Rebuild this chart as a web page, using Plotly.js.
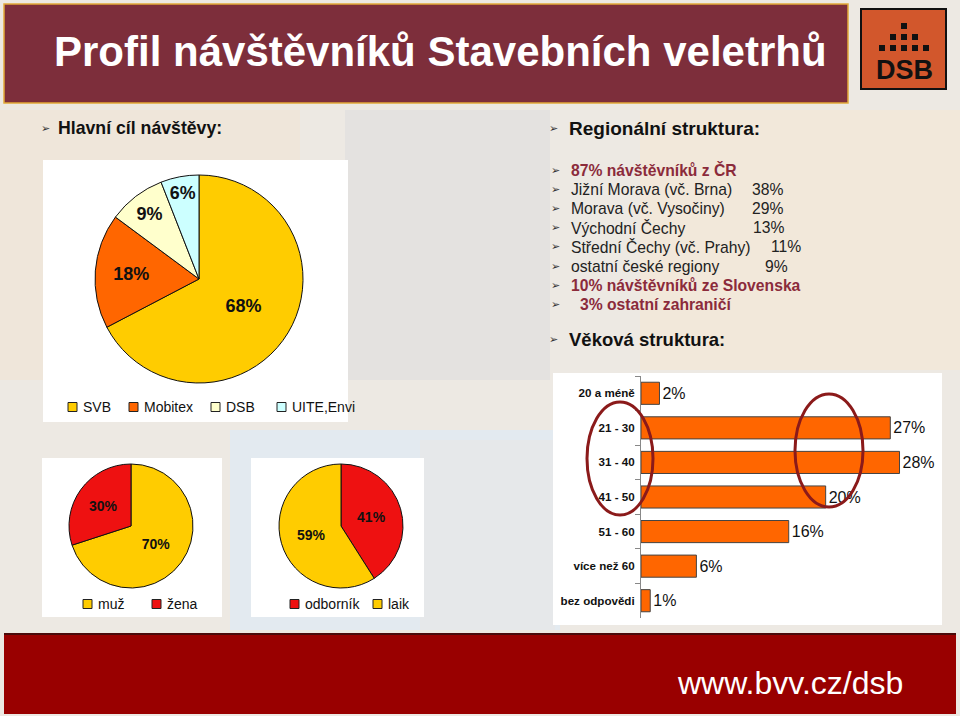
<!DOCTYPE html>
<html><head><meta charset="utf-8">
<script src="https://cdn.plot.ly/plotly-3.0.1.min.js"></script>
<style>html,body{margin:0;padding:0;background:#fff}#chart{width:960px;height:716px}</style>
</head><body><div id="chart"></div>
<script>
// ---- data ----
const goalLabels = ['SVB', 'Mobitex', 'DSB', 'UITE,Envi'];
const goalValues = [68, 18, 9, 6];
const genderLabels = ['muž', 'žena'];
const genderValues = [70, 30];
const expertLabels = ['odborník', 'laik'];
const expertValues = [41, 59];
const ageLabels = ['20 a méně', '21 - 30', '31 - 40', '41 - 50', '51 - 60', 'více než 60', 'bez odpovědi'];
const ageValues = [2, 27, 28, 20, 16, 6, 1];
const regionLabels = ['Jižní Morava (vč. Brna)', 'Morava (vč. Vysočiny)', 'Východní Čechy', 'Střední Čechy (vč. Prahy)', 'ostatní české regiony'];
const regionValues = [38, 29, 13, 11, 9];
const czShare = 87, skShare = 10, otherShare = 3;

// ---- styling ----
const W = 960, H = 716;
const X = p => p / W, Y = p => 1 - p / H;
const FONT = '"Liberation Sans", Arial, sans-serif';
const YEL = '#FFCC00', ORA = '#FF6600', RED = '#EE1111';
const goalColors = [YEL, ORA, '#FFFFCC', '#CCFFFF'];
const genderColors = [YEL, RED];
const expertColors = [RED, YEL];
const MAROON = '#8B2B3B';
const LIST = 15.7;

function pie(labels, values, colors, cx, cy, r, fs) {
  return {
    type: 'pie', labels, values, sort: false, direction: 'clockwise', rotation: 0,
    marker: {colors, line: {color: '#111', width: 1}},
    texttemplate: '%{value}%', textposition: 'inside', insidetextorientation: 'horizontal',
    insidetextfont: {family: FONT, size: fs, color: '#111', weight: 'bold'},
    domain: {x: [X(cx - r), X(cx + r)], y: [Y(cy + r), Y(cy - r)]},
    hoverinfo: 'skip', showlegend: false
  };
}

const traces = [
  pie(goalLabels, goalValues, goalColors, 199, 279, 104, 18),
  pie(genderLabels, genderValues, genderColors, 131, 526, 62, 14),
  pie(expertLabels, expertValues, expertColors, 341, 526, 62, 14),
  {
    type: 'bar', orientation: 'h', x: ageValues, y: ageLabels,
    marker: {color: ORA, line: {color: '#444', width: 1}},
    texttemplate: '%{x}%', textposition: 'outside', cliponaxis: false,
    textfont: {family: FONT, size: 16, color: '#111'},
    xaxis: 'x', yaxis: 'y', showlegend: false, hoverinfo: 'skip'
  }
];

const shapes = [];
const rect = (x0, y0, x1, y1, fill, line, lw, layer) => shapes.push({
  type: 'rect', xref: 'paper', yref: 'paper', x0: X(x0), x1: X(x1), y0: Y(y1), y1: Y(y0),
  fillcolor: fill, line: {color: line || fill, width: lw || 0}, layer: layer || 'below'
});
// faint background texture blocks
rect(0, 110, 300, 380, '#EFE6DA');
rect(345, 110, 550, 380, '#E4E2E0');
rect(640, 110, 960, 370, '#F2E8DA');
rect(230, 430, 560, 630, '#E3EAF0');
rect(420, 440, 555, 630, '#E6E8EA');
// white panels
rect(43, 160, 348, 422, '#FFFFFF');
rect(42, 458, 222, 617, '#FFFFFF');
rect(251, 458, 424, 617, '#FFFFFF');
rect(553, 373, 942, 625, '#FFFFFF');
// title band
rect(4, 4, 848, 103, '#7D2E3B', '#E2A93A', 1.5);
// logo
rect(861, 9, 946, 89, '#D2572C', '#111', 2);
const dot = (x, y) => rect(x, y, x + 6, y + 6, '#111');
dot(901, 23);
[890, 901, 912].forEach(x => dot(x, 34));
[879, 890, 901, 912, 923].forEach(x => dot(x, 45));
// footer
rect(4, 633, 956, 714, '#990000');
shapes.push({type: 'line', xref: 'paper', yref: 'paper', x0: X(4), x1: X(956), y0: Y(634), y1: Y(634),
  line: {color: '#4A0A0A', width: 2}, layer: 'below'});
// highlight ellipses
const ell = (x0, y0, x1, y1) => shapes.push({type: 'circle', xref: 'paper', yref: 'paper',
  x0: X(x0), x1: X(x1), y0: Y(y1), y1: Y(y0), line: {color: '#8B1A1A', width: 3}, layer: 'above'});
ell(587, 402, 653, 515);
ell(795, 394, 863, 507);

const ann = [];
const txt = (text, x, y, size, opts) => ann.push(Object.assign({
  text, xref: 'paper', yref: 'paper', x: X(x), y: Y(y), xanchor: 'left', yanchor: 'middle',
  showarrow: false, font: {family: FONT, size, color: '#111'}
}, opts || {}));
const bullet = (x, y) => txt('➢', x, y, 11, {font: {family: 'DejaVu Sans', size: 11, color: '#333'}});

// legends drawn from label/colour arrays
function legend(labels, colors, xs, y) {
  labels.forEach((l, i) => {
    rect(xs[i], y - 4.5, xs[i] + 9, y + 4.5, colors[i], '#222', 1, 'above');
    txt(l, xs[i] + 13, y, 14, {font: {family: FONT, size: 14, color: '#111'}});
  });
}
legend(goalLabels, goalColors, [68, 129, 211, 277], 407);
legend(genderLabels, genderColors, [83, 152], 604);
legend(expertLabels, expertColors, [290, 373], 604);

txt('<b>Profil návštěvníků Stavebních veletrhů</b>', 440, 52, 42, {xanchor: 'center', font: {family: FONT, size: 42, color: '#FFFFFF'}});
txt('<b>DSB</b>', 904, 70, 27, {xanchor: 'center', font: {family: FONT, size: 27, color: '#111'}});
txt('www.bvv.cz/dsb', 905, 683, 32, {xanchor: 'right', font: {family: FONT, size: 32, color: '#FFFFFF'}});

bullet(39, 128);
txt('<b>Hlavní cíl návštěvy:</b>', 56, 128, 17.7);
bullet(547, 128);
txt('<b>Regionální struktura:</b>', 567, 128, 19);

const rowY = [170, 189, 208, 228, 247, 266, 285, 304];
rowY.forEach(y => bullet(549, y));
txt('<b>' + czShare + '% návštěvníků z ČR</b>', 569, rowY[0], LIST, {font: {family: FONT, size: LIST, color: MAROON}});
const valX = [750, 750, 751, 769, 763];
regionLabels.forEach((l, i) => {
  txt(l, 569, rowY[i + 1], LIST, {font: {family: FONT, size: LIST, color: '#222'}});
  txt(regionValues[i] + '%', valX[i], rowY[i + 1], LIST, {font: {family: FONT, size: LIST, color: '#222'}});
});
txt('<b>' + skShare + '% návštěvníků ze Slovenska</b>', 569, rowY[6], LIST, {font: {family: FONT, size: LIST, color: MAROON}});
txt('<b>' + otherShare + '% ostatní zahraničí</b>', 578, rowY[7], LIST, {font: {family: FONT, size: LIST, color: MAROON}});
bullet(547, 339);
txt('<b>Věková struktura:</b>', 567, 339, 18.5);

const layout = {
  width: W, height: H, margin: {l: 0, r: 0, t: 0, b: 0},
  paper_bgcolor: '#EDE9E3', plot_bgcolor: 'rgba(0,0,0,0)',
  font: {family: FONT},
  showlegend: false,
  xaxis: {domain: [X(641), X(918)], range: [0, 30], visible: false, anchor: 'y', fixedrange: true},
  yaxis: {domain: [Y(618), Y(376)], autorange: 'reversed', type: 'category', anchor: 'x',
    showline: true, linecolor: '#888', linewidth: 1, ticks: 'outside', tickson: 'boundaries',
    ticklen: 5, tickcolor: '#888', showgrid: false, zeroline: false, ticklabelstandoff: 3,
    tickfont: {family: FONT, size: 11.6, color: '#111', weight: 'bold'}},
  bargap: 0.36,
  shapes, annotations: ann
};

Plotly.newPlot('chart', traces, layout, {displayModeBar: false, staticPlot: true});
</script></body></html>
